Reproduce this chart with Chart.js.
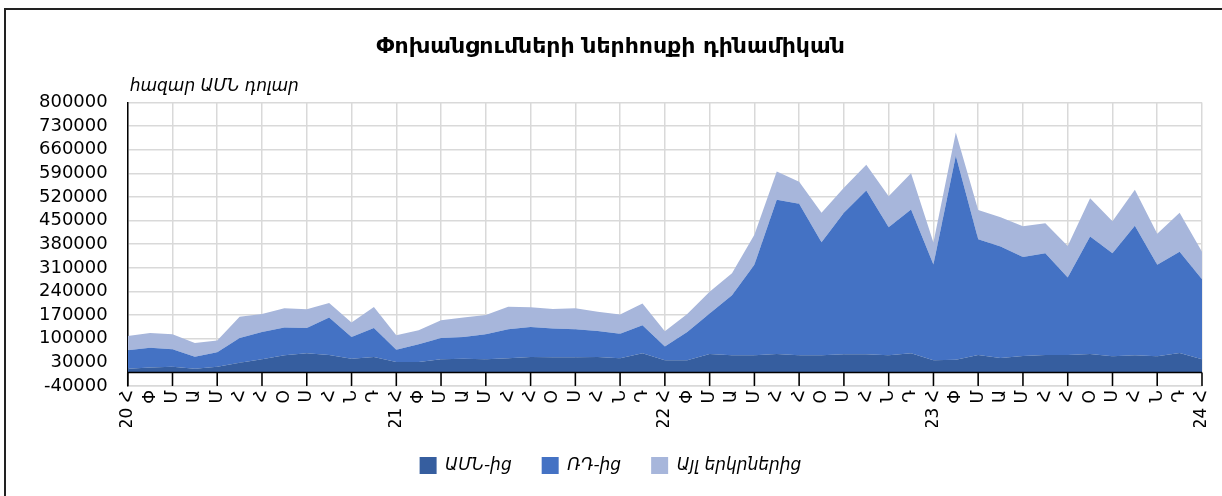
<!DOCTYPE html>
<html>
<head>
<meta charset="utf-8">
<script src="https://cdn.jsdelivr.net/npm/chart.js@4"></script>
<style>
  html, body { margin: 0; padding: 0; background: #fff; overflow: hidden; }
  #wrap { position: relative; width: 1222px; height: 496px; }
  #frame { position: absolute; left: 4px; top: 8px; width: 1260px; height: 540px; border: 2px solid #222; box-sizing: border-box; }
  canvas { position: absolute; left: 0; top: 0; }
</style>
</head>
<body>
<div id="wrap">
  <div id="frame"></div>
  <canvas id="remitChart" width="1222" height="496"></canvas>
</div>
<script>
// month letters (Jan..Dec) and year labels shown at every January
const monthLetters = ['Հ', 'Փ', 'Մ', 'Ա', 'Մ', 'Հ', 'Հ', 'Օ', 'Ս', 'Հ', 'Ն', 'Դ'];
const yearLabels = ['20', '21', '22', '23', '24'];

// thousand USD, Jan 2020 .. Jan 2024
const fromUS = [11000, 15000, 17000, 11000, 17000, 29000, 39000, 51000, 57000, 52000, 41000, 46000,
                31000, 31000, 39000, 41000, 39000, 42000, 46000, 45000, 45000, 46000, 42000, 57000,
                36000, 36000, 55000, 51000, 51000, 55000, 51000, 51000, 54000, 54000, 51000, 57000,
                36000, 38000, 52000, 43000, 49000, 52000, 52000, 55000, 48000, 51000, 48000, 58000,
                39000];
const fromRF = [55000, 58000, 52000, 36000, 43000, 73000, 81000, 82000, 75000, 111000, 64000, 86000,
                36000, 53000, 63000, 64000, 74000, 86000, 89000, 85000, 83000, 77000, 73000, 83000,
                41000, 84000, 120000, 178000, 268000, 457000, 449000, 335000, 419000, 485000, 379000, 426000,
                284000, 604000, 343000, 330000, 293000, 301000, 229000, 348000, 305000, 384000, 271000, 300000,
                237000];
const fromOther = [42000, 44000, 44000, 40000, 35000, 63000, 53000, 57000, 55000, 43000, 43000, 62000,
                   43000, 41000, 53000, 58000, 57000, 67000, 58000, 58000, 62000, 57000, 57000, 64000,
                   45000, 53000, 64000, 65000, 89000, 83000, 65000, 87000, 74000, 76000, 92000, 107000,
                   65000, 69000, 86000, 87000, 91000, 89000, 94000, 113000, 95000, 106000, 92000, 115000,
                   82000];

const seriesNames = ['ԱՄՆ-ից', 'ՌԴ-ից', 'Այլ երկրներից'];
const yMin = -40000, yMax = 800000, yStep = 70000;

const labels = fromUS.map(function(v, i) {
    const m = monthLetters[i % 12];
    return i % 12 === 0 ? yearLabels[i / 12] + ' ' + m : m;
});

const FONT = "'DejaVu Sans', sans-serif";

// zero line, tick marks below it and the unit caption
const extras = {
    id: 'extras',
    afterDatasetsDraw(chart) {
        const { ctx, chartArea, scales: { x, y } } = chart;
        const y0 = y.getPixelForValue(0);
        ctx.save();
        ctx.strokeStyle = '#000';
        ctx.lineWidth = 1.5;
        ctx.beginPath();
        ctx.moveTo(chartArea.left, y0);
        ctx.lineTo(chartArea.right, y0);
        for (let i = 0; i < labels.length; i += 2) {
            const px = x.getPixelForValue(i);
            ctx.moveTo(px, y0);
            ctx.lineTo(px, chartArea.bottom);
        }
        ctx.stroke();
        ctx.restore();
    },
    afterDraw(chart) {
        const { ctx, chartArea } = chart;
        ctx.save();
        ctx.font = "italic 17px " + FONT;
        ctx.fillStyle = '#000';
        ctx.textBaseline = 'middle';
        ctx.fillText('հազար ԱՄՆ դոլար', chartArea.left + 2, chartArea.top - 16);
        ctx.restore();
    }
};

const remitCtx = document.getElementById('remitChart').getContext('2d');

new Chart(remitCtx, {
    type: 'line',
    data: {
        labels: labels,
        datasets: [{
            label: seriesNames[0],
            data: fromUS,
            backgroundColor: '#365E9F',
            borderWidth: 0,
            pointRadius: 0,
            fill: 'origin'
        }, {
            label: seriesNames[1],
            data: fromRF,
            backgroundColor: '#4472C4',
            borderWidth: 0,
            pointRadius: 0,
            fill: '-1'
        }, {
            label: seriesNames[2],
            data: fromOther,
            backgroundColor: '#A7B6DB',
            borderWidth: 0,
            pointRadius: 0,
            fill: '-1'
        }]
    },
    options: {
        responsive: false,
        animation: false,
        devicePixelRatio: 1,
        layout: { padding: { left: 19, right: 20, top: 0, bottom: 12 } },
        plugins: {
            title: {
                display: true,
                text: 'Փոխանցումների ներհոսքի դինամիկան',
                color: '#000',
                font: { family: FONT, size: 22, weight: 'bold' },
                padding: { top: 34, bottom: 42 }
            },
            legend: {
                position: 'bottom',
                labels: {
                    color: '#000',
                    font: { family: FONT, size: 17, style: 'italic' },
                    boxWidth: 17,
                    boxHeight: 17,
                    padding: 30
                }
            },
            tooltip: { enabled: false }
        },
        scales: {
            x: {
                offset: false,
                grid: {
                    color: function(c) { return c.index % 2 === 0 ? '#d9d9d9' : 'rgba(0,0,0,0)'; },
                    lineWidth: 1.5,
                    drawTicks: false
                },
                border: { color: '#d9d9d9', width: 1.5 },
                ticks: {
                    autoSkip: false,
                    maxRotation: 90,
                    minRotation: 90,
                    padding: 4,
                    color: '#000',
                    font: { family: FONT, size: 17 }
                },
                afterFit: function(scale) {
                    scale.height = 41;
                    scale.paddingRight = 0;
                }
            },
            y: {
                stacked: true,
                min: yMin,
                max: yMax,
                grid: { color: '#d9d9d9', lineWidth: 1.5, drawTicks: false },
                border: { color: '#000', width: 1.5 },
                ticks: {
                    stepSize: yStep,
                    autoSkip: false,
                    padding: 20,
                    color: '#000',
                    font: { family: FONT, size: 18 },
                    callback: function(v) { return String(v); }
                }
            }
        }
    },
    plugins: [extras]
});
</script>
</body>
</html>
